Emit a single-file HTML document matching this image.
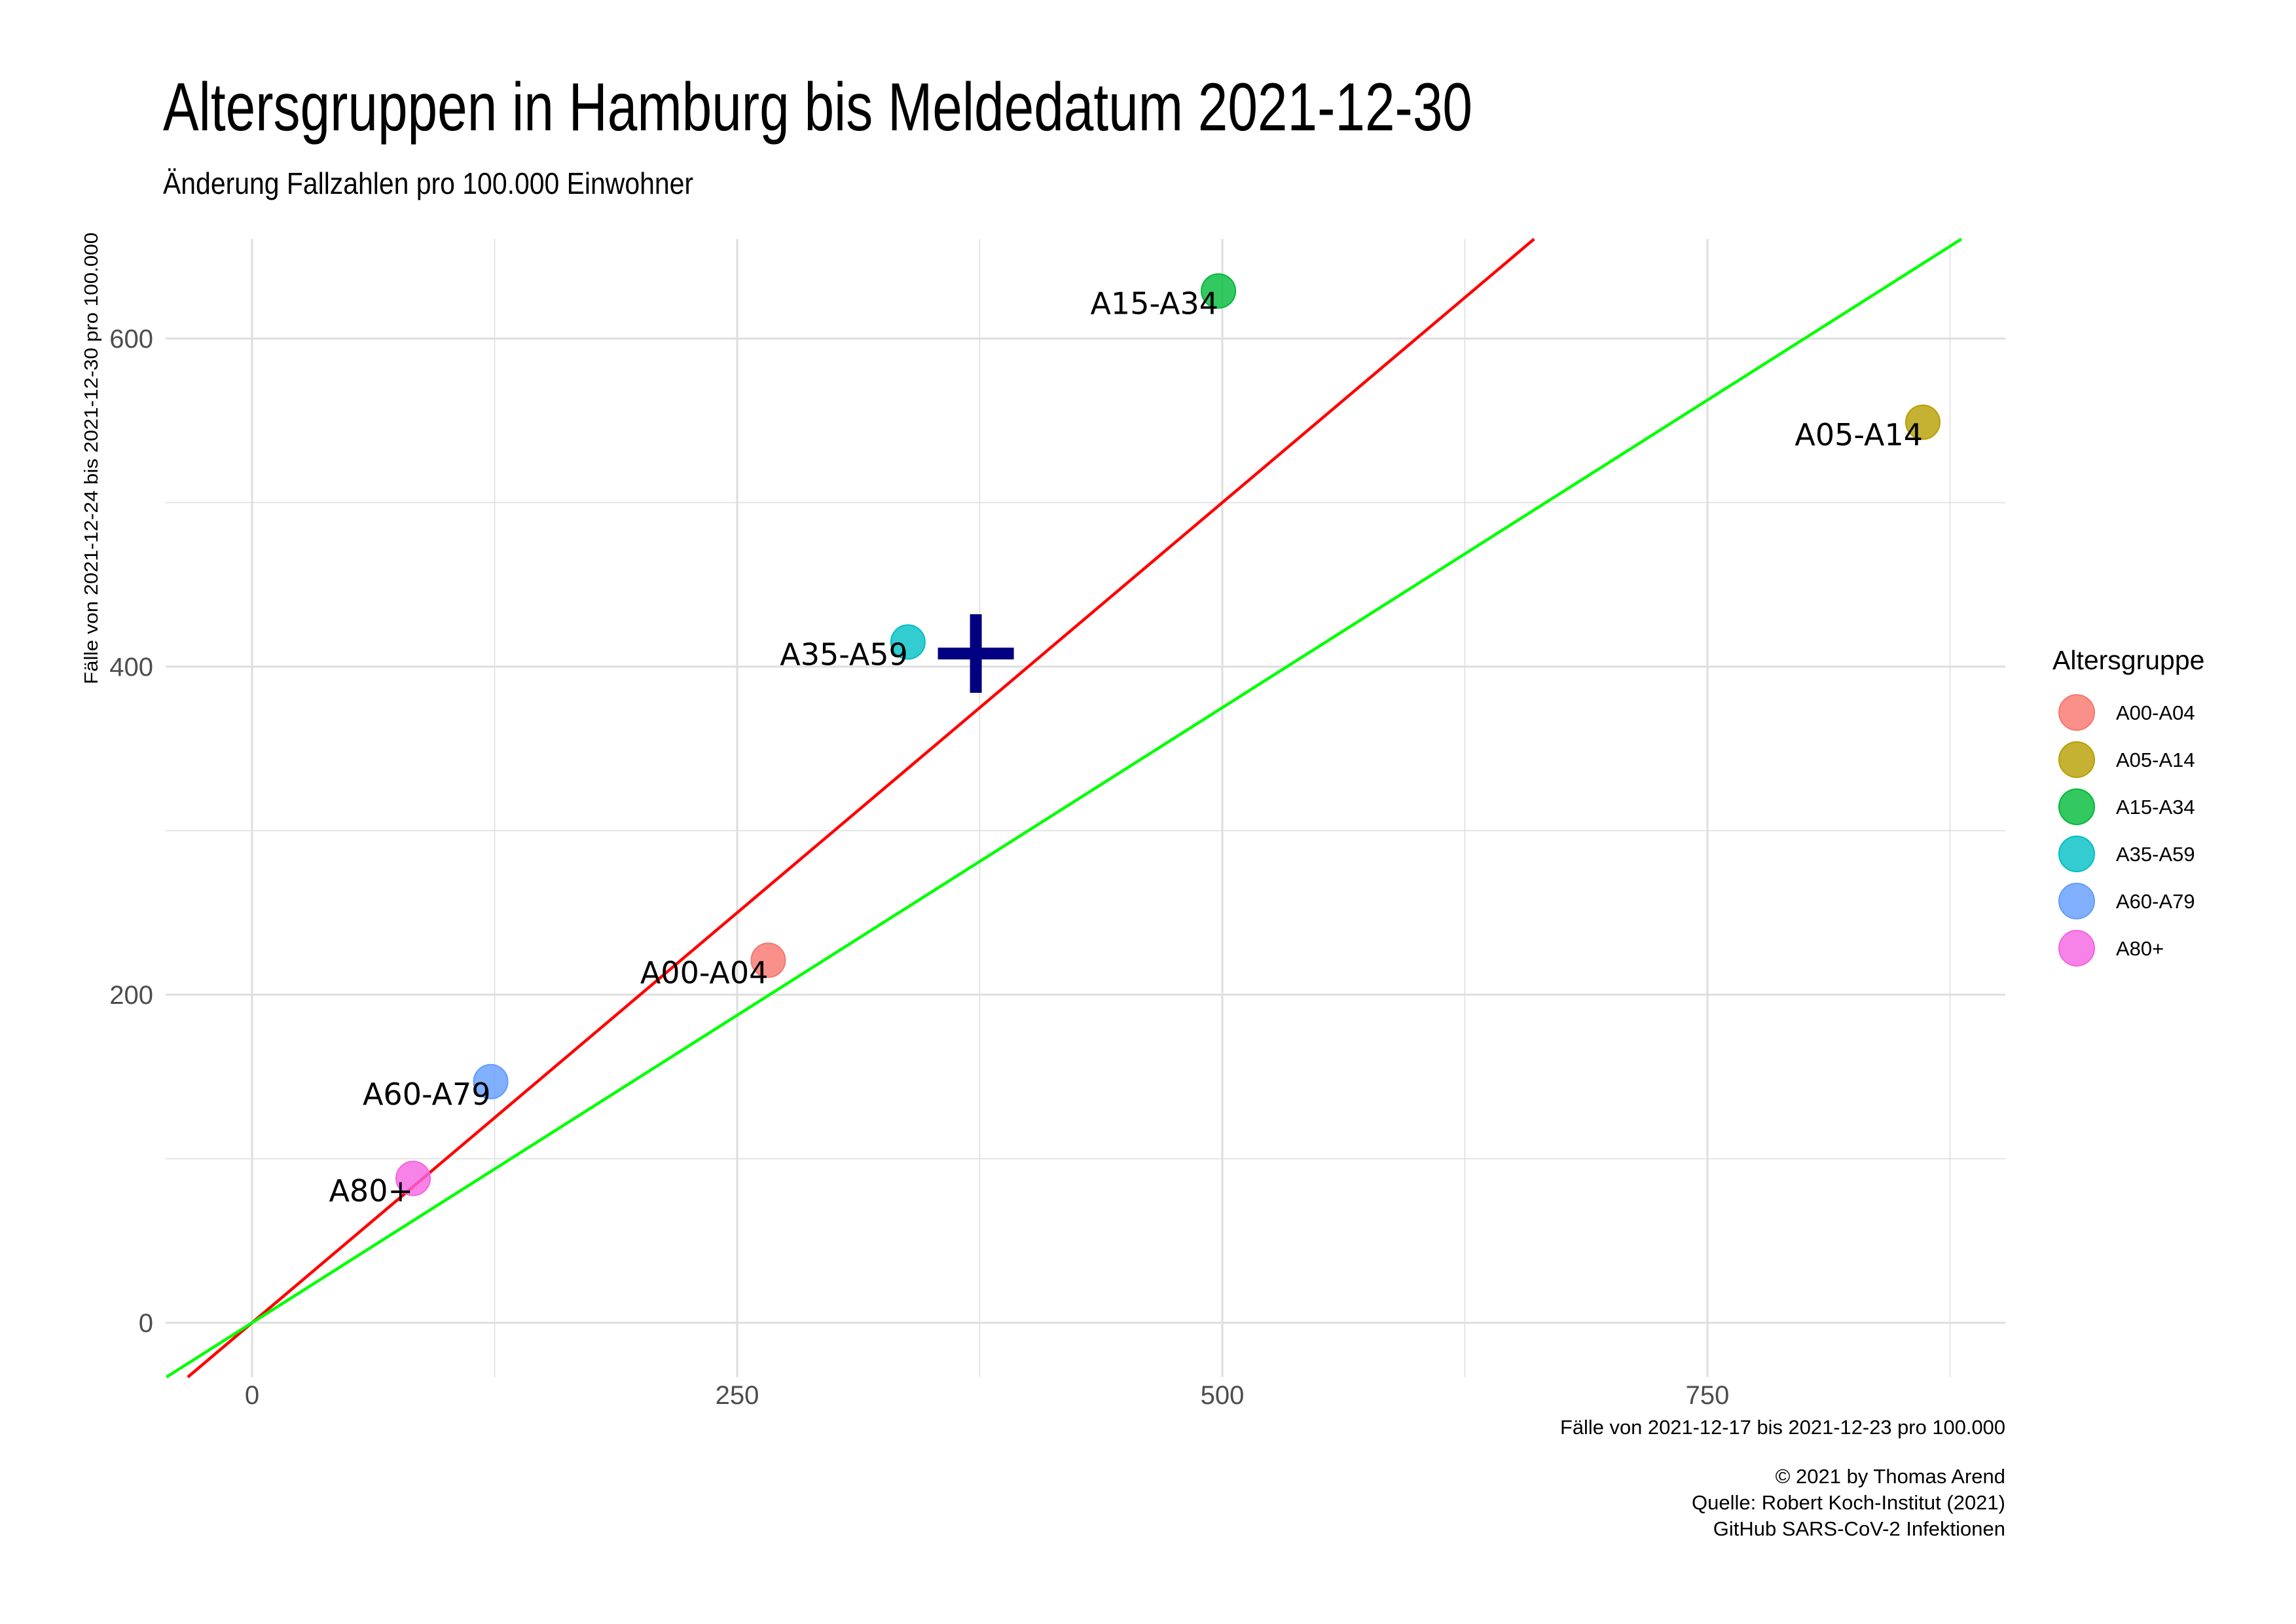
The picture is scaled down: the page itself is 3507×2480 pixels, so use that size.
<!DOCTYPE html>
<html><head><meta charset="utf-8"><style>
html,body{margin:0;padding:0;background:#fff;}
svg{display:block;}
text{font-family:"Liberation Sans Narrow","Liberation Sans",sans-serif;}
</style></head><body>
<svg id="chart" width="3507" height="2480" viewBox="0 0 3507 2480" xmlns="http://www.w3.org/2000/svg">
<rect width="3507" height="2480" fill="#fff"/>
<text x="249" y="199" font-size="104" textLength="2000" lengthAdjust="spacingAndGlyphs">Altersgruppen in Hamburg bis Meldedatum 2021-12-30</text>
<text x="249" y="296" font-size="46" textLength="810" lengthAdjust="spacingAndGlyphs">Änderung Fallzahlen pro 100.000 Einwohner</text>
<g id="grid"></g>
<g id="lines"></g>
<g id="points"></g>
<g id="labels"></g>
<g id="axes"></g>
<text x="3063" y="2190" font-size="31" text-anchor="end" textLength="680" lengthAdjust="spacingAndGlyphs">Fälle von 2021-12-17 bis 2021-12-23 pro 100.000</text>
<text transform="translate(149,1045) rotate(-90)" font-size="29" textLength="690" lengthAdjust="spacingAndGlyphs">Fälle von 2021-12-24 bis 2021-12-30 pro 100.000</text>
<g font-size="31" text-anchor="end">
<text x="3063" y="2265">© 2021 by Thomas Arend</text>
<text x="3063" y="2305">Quelle: Robert Koch-Institut (2021)</text>
<text x="3063" y="2345">GitHub SARS-CoV-2 Infektionen</text>
</g>
<g id="legend"></g>
</svg>
<script>
const groups = ["A00-A04","A05-A14","A15-A34","A35-A59","A60-A79","A80+"];
const xValues = [266, 861, 498, 338, 123, 83];
const yValues = [221, 549, 629, 415, 147, 88];
const colors = ["#F8766D","#B79F00","#00BA38","#00BFC4","#619CFF","#F564E3"];
const xTicks = [0, 250, 500, 750];
const yTicks = [0, 200, 400, 600];
const meanPoint = [373, 408];
const redSlope = 1.0;
const greenSlope = 0.75;

const NS = "http://www.w3.org/2000/svg";
const L = 253, R = 3063, T = 365, B = 2103;
const X0 = 385, XK = 2.964, Y0 = 2020, YK = 2.505;
function sx(v){ return X0 + v * XK; }
function sy(v){ return Y0 - v * YK; }
const xmin = (L - X0) / XK, xmax = (R - X0) / XK;
const ymin = (Y0 - B) / YK, ymax = (Y0 - T) / YK;
function mk(tag, attrs, parent){
  const e = document.createElementNS(NS, tag);
  for (const k in attrs) e.setAttribute(k, attrs[k]);
  parent.appendChild(e); return e;
}
const grid = document.getElementById("grid");
for (let v = 0; v <= 875; v += 125) {
  const l = mk("line", {x1:sx(v), x2:sx(v), y1:T, y2:B, stroke:"#dedede", "stroke-width": v % 250 === 0 ? 3 : 1.5}, grid);
  
  
}
for (let v = 0; v <= 600; v += 100) {
  const l = mk("line", {x1:L, x2:R, y1:sy(v), y2:sy(v), stroke:"#dedede", "stroke-width": v % 200 === 0 ? 3 : 1.5}, grid);
  
  
}
const lines = document.getElementById("lines");
function refLine(slope, color, name){
  let x1 = xmin, y1 = slope * x1;
  if (y1 < ymin) { y1 = ymin; x1 = y1 / slope; }
  let x2 = xmax, y2 = slope * x2;
  if (y2 > ymax) { y2 = ymax; x2 = y2 / slope; }
  const l = mk("line", {x1:sx(x1), y1:sy(y1), x2:sx(x2), y2:sy(y2), stroke:color, "stroke-width":4.5}, lines);
  
  
}
refLine(redSlope, "#ff0000", "red-reference-line");
refLine(greenSlope, "#00ff00", "green-reference-line");

const pts = document.getElementById("points");
const labs = document.getElementById("labels");
groups.forEach((g, i) => {
  const c = mk("circle", {cx:sx(xValues[i]), cy:sy(yValues[i]), r:26, fill:colors[i], "fill-opacity":0.8, stroke:colors[i], "stroke-width":2}, pts);
  
  
  const t = mk("text", {x:sx(xValues[i]), y:sy(yValues[i]) + 35, "font-size":46, "text-anchor":"end", style:"font-family:'DejaVu Sans',sans-serif"}, labs);
  t.textContent = g;
  
  
});
const cx = sx(meanPoint[0]), cy = sy(meanPoint[1]);
const cross = mk("path", {d:`M${cx-58},${cy}H${cx+58}M${cx},${cy-60}V${cy+60}`, stroke:"#000080", "stroke-width":18, fill:"none"}, pts);



const axes = document.getElementById("axes");
xTicks.forEach(v => {
  const t = mk("text", {x:sx(v), y:2144, "font-size":40, fill:"#4d4d4d", "text-anchor":"middle"}, axes);
  t.textContent = v;
  
  
});
yTicks.forEach(v => {
  const t = mk("text", {x:234, y:sy(v) + 14, "font-size":40, fill:"#4d4d4d", "text-anchor":"end"}, axes);
  t.textContent = v;
  
  
});

const leg = document.getElementById("legend");
const lt = mk("text", {x:3135, y:1022, "font-size":41}, leg);
lt.textContent = "Altersgruppe";


groups.forEach((g, i) => {
  const y = 1088 + i * 72;
  const c = mk("circle", {cx:3172, cy:y, r:27, fill:colors[i], "fill-opacity":0.8, stroke:colors[i], "stroke-width":2}, leg);
  
  
  const t = mk("text", {x:3232, y:y + 11, "font-size":31}, leg);
  t.textContent = g;
  
  
});
</script>
</body></html>
